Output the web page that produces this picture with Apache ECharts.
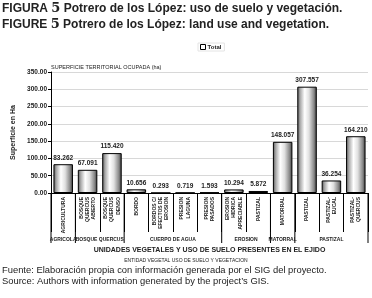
<!DOCTYPE html>
<html><head><meta charset="utf-8">
<script src="https://cdn.jsdelivr.net/npm/echarts@6/dist/echarts.min.js"></script>
<style>html,body{margin:0;padding:0;background:#fff}#c{width:372px;height:298px}</style>
</head><body><div id="c"></div>
<script>
const categories = ['AGRICULTURA','BOSQUE\nQUERCUS\nABIERTO','BOSQUE\nQUERCUS\nDENSO','BORDO','BORDOS C/\nEFECTOS DE\nEROSION','PRESION\nLAGUNA','PRESION\nPASADOS','EROSION\nHIDRICA\nAPRECIABLE','PASTIZAL','MATORRAL','PASTIZAL','PASTIZAL-\nEUCAL','PASTIZAL-\nQUERCUS'];
const values = [83.262, 67.091, 115.420, 10.656, 0.293, 0.719, 1.593, 10.294, 5.872, 148.057, 307.557, 36.254, 164.210];
const groups = ['AGRICOLA','BOSQUE QUERCUS','CUERPO DE AGUA','EROSION','MATORRAL','PASTIZAL'];
const groupSizes = [1, 2, 4, 2, 1, 3];
const yTicks = [0, 50, 100, 150, 200, 250, 300, 350];

const F = '"Liberation Sans", Arial, sans-serif';
const chart = echarts.init(document.getElementById('c'), null, {renderer:'canvas'});
const capRich = {a:{fontFamily:F,fontSize:12,color:'#222'}, n:{fontFamily:'"DejaVu Serif", serif',fontWeight:'bold',fontSize:13,color:'#222'}, b:{fontFamily:F,fontSize:12,fontWeight:'bold',color:'#222'}};
const option = {
  animation: false,
  backgroundColor: '#fff',
  title: [
    {left: 2, top: 2, padding: 0, text: '{a|FIGURA }{n|5}{b| Potrero de los López: uso de suelo y vegetación.}', textStyle: {rich: capRich}},
    {left: 2, top: 18, padding: 0, text: '{a|FIGURE }{n|5}{b| Potrero de los López: land use and vegetation.}', textStyle: {rich: capRich}},
    {left: 51, top: 64, padding: 0, text: 'SUPERFICIE TERRITORIAL OCUPADA (ha)', textStyle:{fontFamily:F,fontSize:5.5,fontWeight:'normal',color:'#222'}},
    {left: 'center', top: 258.5, padding: 0, text: 'ENTIDAD VEGETAL USO DE SUELO Y VEGETACION', textStyle:{fontFamily:F,fontSize:5,fontWeight:'normal',color:'#222'}},
    {left: 2, top: 265.5, padding: 0, text: 'Fuente: Elaboración propia con información generada por el SIG del proyecto.', textStyle:{fontFamily:F,fontSize:9.4,fontWeight:'normal',color:'#222'}},
    {left: 2, top: 276.5, padding: 0, text: 'Source: Authors with information generated by the project\u2019s GIS.', textStyle:{fontFamily:F,fontSize:9.4,fontWeight:'normal',color:'#222'}}
  ],
  legend: {
    left: 198, top: 43, icon: 'rect', itemWidth: 5, itemHeight: 5, itemGap: 2,
    padding: [1,3,1,2], borderColor:'#e4e4e4', borderWidth: 1,
    itemStyle: {color:'#fff', borderColor:'#000', borderWidth:1},
    textStyle: {fontFamily:F, fontSize:6, fontWeight:'bold', color:'#222', padding:[0,0,0,-3]},
    data: ['Total']
  },
  grid: {left: 51, right: 4, top: 72, bottom: 105, containLabel: false},
  xAxis: {
    type: 'category', data: categories, boundaryGap: true,
    name: 'UNIDADES VEGETALES Y USO DE SUELO PRESENTES EN EL EJIDO',
    nameLocation: 'middle', nameGap: 54,
    nameTextStyle: {fontFamily:F, fontSize:7, fontWeight:'bold', color:'#222'},
    axisLine: {lineStyle:{color:'#000', width:1}},
    axisTick: {show:true, length: 39, interval: 0, lineStyle:{color:'#000', width:1}},
    axisLabel: {interval:0, rotate:90, margin:4, fontFamily:F, fontSize:5, fontWeight:'bold', color:'#222', lineHeight:6.3}
  },
  yAxis: {
    type: 'value', min: 0, max: 350, interval: 50,
    name: 'Superficie en Ha', nameLocation:'middle', nameGap: 19, nameRotate: 90,
    nameTextStyle: {fontFamily:F, fontSize:7, fontWeight:'bold', color:'#222'},
    axisLine: {show:true, lineStyle:{color:'#000', width:1}},
    axisTick: {show:true, length:3, lineStyle:{color:'#000'}},
    axisLabel: {margin:4, fontFamily:F, fontSize:6.5, fontWeight:'bold', color:'#222',
      formatter: v => yTicks.indexOf(v) >= 0 ? v.toFixed(2) : ''},
    splitLine: {lineStyle:{color:'#d8d8d8', width:1}}
  },
  series: [{
    name: 'Total', type: 'bar', data: values, barWidth: '80%',
    itemStyle: {
      color: {type:'linear', x:0, y:0, x2:1, y2:0, colorStops:[
        {offset:0, color:'#555'}, {offset:0.15, color:'#aaa'}, {offset:0.38, color:'#fff'},
        {offset:0.6, color:'#e0e0e0'}, {offset:0.85, color:'#8a8a8a'}, {offset:1, color:'#3a3a3a'}]},
      borderColor: '#000', borderWidth: 1
    },
    label: {show:true, position:'top', distance:3, fontFamily:F, fontSize:6.5, fontWeight:'bold', color:'#222',
      formatter: p => p.value.toFixed(3)}
  }]
};
chart.setOption(option);

// group separators and labels placed through the axis scale
const c0 = chart.convertToPixel({xAxisIndex:0}, 0);
const c1 = chart.convertToPixel({xAxisIndex:0}, 1);
const w = c1 - c0;
const y0 = chart.convertToPixel({yAxisIndex:0}, 0);
const graphics = [];
let idx = 0;
const boundary = i => c0 + (i - 0.5) * w;
graphics.push({type:'line', shape:{x1:boundary(0), y1:y0, x2:boundary(0), y2:y0+50}, style:{stroke:'#000', lineWidth:1}});
groups.forEach((g, k) => {
  const start = idx, end = idx + groupSizes[k];
  const xb = boundary(end);
  graphics.push({type:'line', shape:{x1:xb, y1:y0, x2:xb, y2:y0+50}, style:{stroke:'#000', lineWidth:1}});
  const xc = (boundary(start) + boundary(end)) / 2;
  graphics.push({type:'text', x:xc, y:y0+47, style:{text:g, fill:'#222', font:'bold 5px "Liberation Sans", Arial, sans-serif', textAlign:'center', textVerticalAlign:'middle'}});
  idx = end;
});
chart.setOption({graphic: graphics});
</script></body></html>
